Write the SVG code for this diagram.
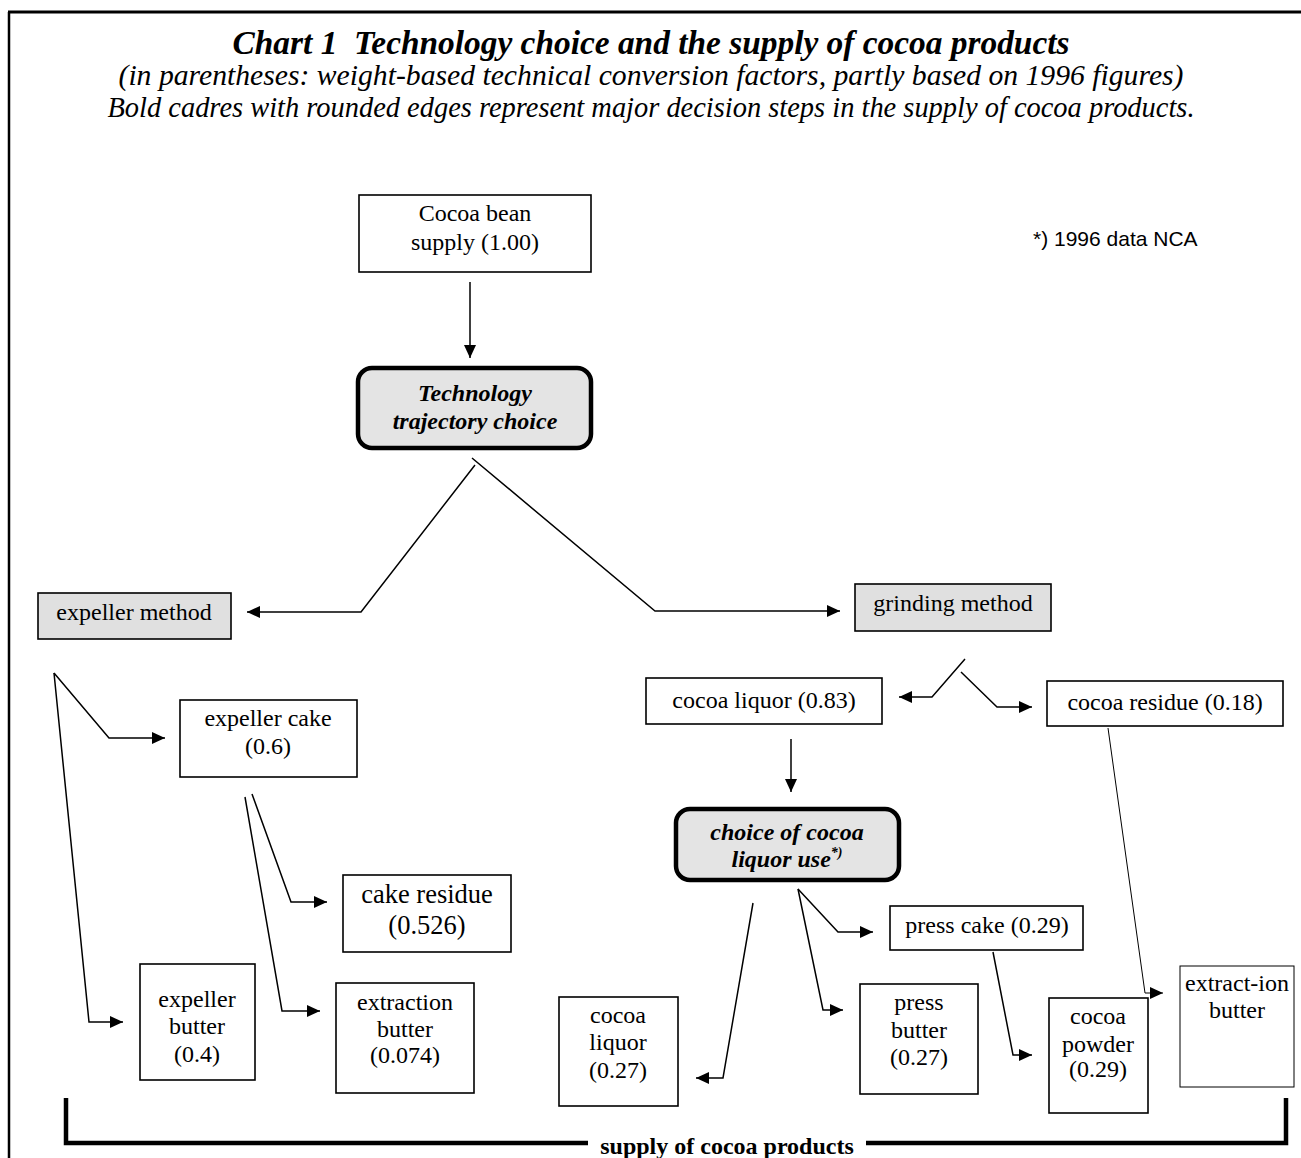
<svg xmlns="http://www.w3.org/2000/svg" width="1301" height="1158" viewBox="0 0 1301 1158">
<style>
  text { font-family: "Liberation Serif", "Times New Roman", serif; fill: #000; }
  .t { font-size: 24px; text-anchor: middle; }
  .d { font-size: 24px; font-weight: bold; font-style: italic; text-anchor: middle; }
  .hdr { font-style: italic; text-anchor: middle; }
  .box { fill: #fff; stroke: #000; stroke-width: 1.6; }
  .gray { fill: #e0e0e0; stroke: #000; stroke-width: 1.6; }
  .dec { fill: #e4e4e4; stroke: #000; stroke-width: 4.5; }
  .con path { fill: none; stroke: #000; stroke-width: 1.5; marker-end: url(#ah); }
  .frame { fill: none; stroke: #000; }
</style>
<defs>
  <marker id="ah" markerUnits="userSpaceOnUse" markerWidth="14" markerHeight="12" refX="13" refY="6" orient="auto">
    <path d="M0,0 L13,6 L0,12 z" fill="#000"/>
  </marker>
</defs>
<rect x="0" y="0" width="1301" height="1158" fill="#fff"/>
<path class="frame" d="M8,12 H1301" stroke-width="3"/>
<path class="frame" d="M9,12 V1158" stroke-width="2.5"/>

<g id="header">
  <text x="651" y="54" class="hdr" font-size="33" font-weight="bold" xml:space="preserve" textLength="837" lengthAdjust="spacingAndGlyphs">Chart 1  Technology choice and the supply of cocoa products</text>
  <text x="651" y="85" class="hdr" font-size="29.5" textLength="1065" lengthAdjust="spacingAndGlyphs">(in parentheses: weight-based technical conversion factors, partly based on 1996 figures)</text>
  <text x="651" y="117" class="hdr" font-size="29" textLength="1087" lengthAdjust="spacingAndGlyphs">Bold cadres with rounded edges represent major decision steps in the supply of cocoa products.</text>
</g>

<g id="note">
  <text x="1033" y="246" style="font-family:'Liberation Sans',Arial,sans-serif" font-size="21">*) 1996 data NCA</text>
</g>

<g class="con" id="connectors">
  <path d="M470,282 V358"/>
  <path d="M475,465 L361,612 H247"/>
  <path d="M472,458 L655,611 H840"/>
  <path d="M965,659 L932,697 H899"/>
  <path d="M961,672 L997,707 H1032"/>
  <path d="M791,739 V792"/>
  <path d="M753,903 L723,1078 H696"/>
  <path d="M798,889 L838,932 H873"/>
  <path d="M798,889 L823,1010 H843"/>
  <path d="M993,952 L1013,1055 H1032"/>
  <path d="M1108,728 L1145,993 H1163" style="stroke-width:1"/>
  <path d="M54,673 L109,738 H165"/>
  <path d="M54,673 L89,1022 H123"/>
  <path d="M252,794 L291,902 H327"/>
  <path d="M245,797 L282,1011 H320"/>
</g>

<g id="cocoa-bean-supply">
  <rect class="box" x="359" y="195" width="232" height="77"/>
  <text class="t" x="475" y="221">Cocoa bean</text>
  <text class="t" x="475" y="250">supply (1.00)</text>
</g>
<g id="technology-choice">
  <rect class="dec" x="358" y="368" width="233" height="80" rx="14"/>
  <text class="d" x="475" y="401">Technology</text>
  <text class="d" x="475" y="429">trajectory choice</text>
</g>
<g id="expeller-method">
  <rect class="gray" x="38" y="593" width="193" height="46"/>
  <text class="t" x="134" y="620">expeller method</text>
</g>
<g id="grinding-method">
  <rect class="gray" x="855" y="584" width="196" height="47"/>
  <text class="t" x="953" y="611">grinding method</text>
</g>
<g id="cocoa-liquor-083">
  <rect class="box" x="646" y="678" width="236" height="46"/>
  <text class="t" x="764" y="708">cocoa liquor (0.83)</text>
</g>
<g id="cocoa-residue">
  <rect class="box" x="1047" y="681" width="236" height="45"/>
  <text class="t" x="1165" y="710">cocoa residue (0.18)</text>
</g>
<g id="choice-liquor-use">
  <rect class="dec" x="676" y="809" width="223" height="71" rx="14"/>
  <text class="d" x="787" y="840">choice of cocoa</text>
  <text class="d" x="787" y="867">liquor use<tspan font-size="14" dy="-10">*)</tspan></text>
</g>
<g id="expeller-cake">
  <rect class="box" x="180" y="700" width="177" height="77"/>
  <text class="t" x="268" y="726">expeller cake</text>
  <text class="t" x="268" y="754">(0.6)</text>
</g>
<g id="cake-residue">
  <rect class="box" x="343" y="875" width="168" height="77"/>
  <text class="t" x="427" y="903" style="font-size:26.5px">cake residue</text>
  <text class="t" x="427" y="934" style="font-size:26.5px">(0.526)</text>
</g>
<g id="expeller-butter">
  <rect class="box" x="140" y="964" width="115" height="116"/>
  <text class="t" x="197" y="1007">expeller</text>
  <text class="t" x="197" y="1034">butter</text>
  <text class="t" x="197" y="1062">(0.4)</text>
</g>
<g id="extraction-butter">
  <rect class="box" x="336" y="983" width="138" height="110"/>
  <text class="t" x="405" y="1010">extraction</text>
  <text class="t" x="405" y="1037">butter</text>
  <text class="t" x="405" y="1063">(0.074)</text>
</g>
<g id="cocoa-liquor-027">
  <rect class="box" x="559" y="997" width="119" height="109"/>
  <text class="t" x="618" y="1023">cocoa</text>
  <text class="t" x="618" y="1050">liquor</text>
  <text class="t" x="618" y="1078">(0.27)</text>
</g>
<g id="press-cake">
  <rect class="box" x="890" y="906" width="193" height="44"/>
  <text class="t" x="987" y="933">press cake (0.29)</text>
</g>
<g id="press-butter">
  <rect class="box" x="860" y="984" width="118" height="110"/>
  <text class="t" x="919" y="1010">press</text>
  <text class="t" x="919" y="1038">butter</text>
  <text class="t" x="919" y="1065">(0.27)</text>
</g>
<g id="cocoa-powder">
  <rect class="box" x="1049" y="998" width="99" height="115"/>
  <text class="t" x="1098" y="1024">cocoa</text>
  <text class="t" x="1098" y="1052">powder</text>
  <text class="t" x="1098" y="1077">(0.29)</text>
</g>
<g id="extraction-butter-2">
  <rect class="box" x="1180" y="966" width="114" height="121" style="stroke-width:1"/>
  <text class="t" x="1237" y="991">extract-ion</text>
  <text class="t" x="1237" y="1018">butter</text>
</g>

<g id="supply-bracket">
  <path d="M66,1098 V1143 H588 M866,1143 H1286 V1098" fill="none" stroke="#000" stroke-width="4.5"/>
  <text x="727" y="1154" font-size="24" font-weight="bold" text-anchor="middle">supply of cocoa products</text>
</g>
</svg>
